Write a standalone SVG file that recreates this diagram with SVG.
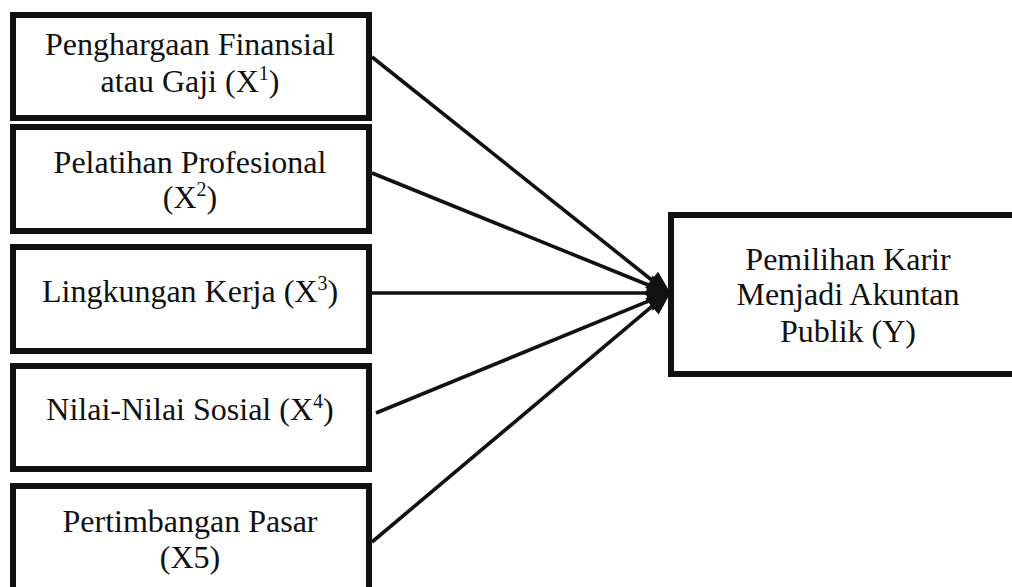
<svg xmlns="http://www.w3.org/2000/svg" width="1012" height="587" viewBox="0 0 1012 587">
<style>
.box{fill:#fff;stroke:#111;stroke-width:6}
.t{font-family:"Liberation Serif","Times New Roman",serif;font-size:32px;fill:#111;text-anchor:middle}
.sup{font-size:20px}
.c{stroke:#111;stroke-width:3.6;fill:none}
</style>
<defs>
<marker id="ah" markerUnits="userSpaceOnUse" markerWidth="30" markerHeight="30" refX="6" refY="0" viewBox="0 -10 20 20" orient="auto" overflow="visible">
<path d="M0,-7 L18,0 L0,7 z" fill="#111"/>
</marker>
</defs>
<rect width="1012" height="587" fill="#fff"/>
<g id="connectors">
<line class="c" x1="372" y1="57" x2="658.6" y2="285.5" marker-end="url(#ah)"/>
<line class="c" x1="372" y1="173" x2="656.9" y2="288.5" marker-end="url(#ah)"/>
<line class="c" x1="372" y1="293" x2="656" y2="293" marker-end="url(#ah)"/>
<line class="c" x1="376" y1="413" x2="656.9" y2="297.6" marker-end="url(#ah)"/>
<line class="c" x1="372" y1="542" x2="658.8" y2="300.7" marker-end="url(#ah)"/>
</g>
<g id="x1">
<rect class="box" x="13" y="15" width="356" height="103"/>
<text class="t" x="190" y="55">Penghargaan Finansial</text>
<text class="t" x="190" y="92">atau Gaji (X<tspan class="sup" dy="-12">1</tspan><tspan dy="12">)</tspan></text>
</g>
<g id="x2">
<rect class="box" x="13" y="127" width="356" height="104"/>
<text class="t" x="190" y="173">Pelatihan Profesional</text>
<text class="t" x="190" y="208">(X<tspan class="sup" dy="-12">2</tspan><tspan dy="12">)</tspan></text>
</g>
<g id="x3">
<rect class="box" x="13" y="247" width="356" height="104"/>
<text class="t" x="190" y="302">Lingkungan Kerja (X<tspan class="sup" dy="-12">3</tspan><tspan dy="12">)</tspan></text>
</g>
<g id="x4">
<rect class="box" x="13" y="366" width="356" height="103"/>
<text class="t" x="190" y="420">Nilai-Nilai Sosial (X<tspan class="sup" dy="-12">4</tspan><tspan dy="12">)</tspan></text>
</g>
<g id="x5">
<rect class="box" x="13" y="486" width="356" height="104"/>
<text class="t" x="190" y="532">Pertimbangan Pasar</text>
<text class="t" x="190" y="568">(X5)</text>
</g>
<g id="y">
<rect class="box" x="671" y="215" width="354" height="159"/>
<text class="t" x="848" y="270">Pemilihan Karir</text>
<text class="t" x="848" y="305">Menjadi Akuntan</text>
<text class="t" x="848" y="342">Publik (Y)</text>
</g>
</svg>
